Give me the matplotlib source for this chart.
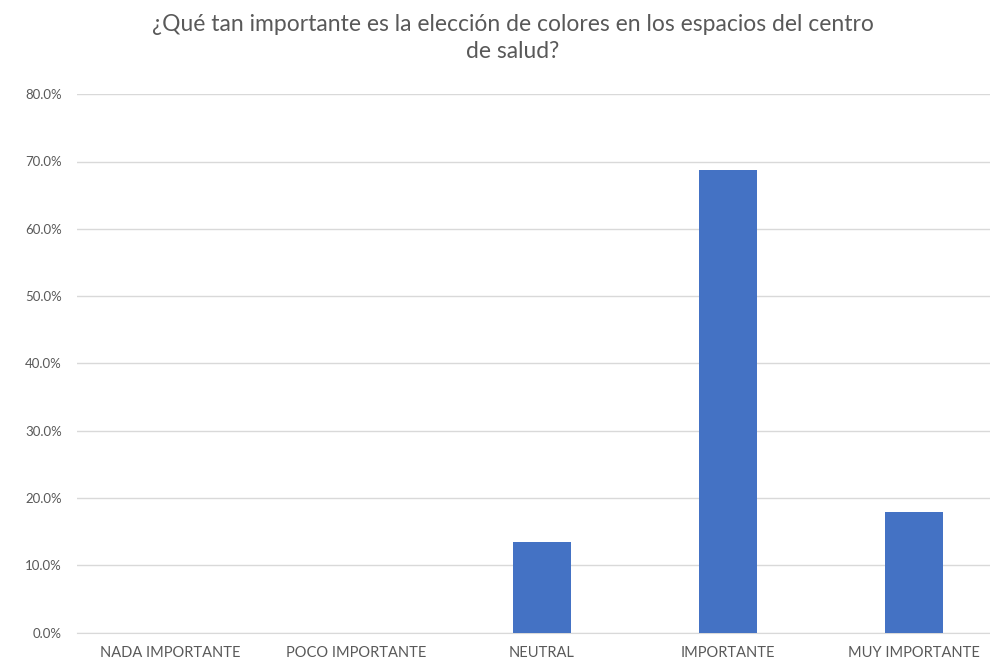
import matplotlib

matplotlib.use("Agg")

import matplotlib.pyplot as plt
from matplotlib.ticker import PercentFormatter

# survey answers, share of respondents (%)
categories = ["NADA IMPORTANTE", "POCO IMPORTANTE", "NEUTRAL", "IMPORTANTE", "MUY IMPORTANTE"]
shares = [0.0, 0.0, 13.4, 68.7, 17.9]
y_ticks = [0, 10, 20, 30, 40, 50, 60, 70, 80]

title = "¿Qué tan importante es la elección de colores en los espacios del centro\nde salud?"

plt.rcParams["font.family"] = ["Lato", "DejaVu Sans"]

W, H = 990, 663
fig = plt.figure(figsize=(W / 100, H / 100), dpi=100)
# plot area runs past the right edge, the reference is cropped there
ax = fig.add_axes([77 / W, (H - 632.6) / H, 930 / W, 538.4 / H])

x = range(len(categories))
ax.bar(x, shares, width=0.31, color="#4472C4", zorder=3)

ax.set_xlim(-0.5, len(categories) - 0.5)
ax.set_ylim(0, 80)
ax.set_yticks(y_ticks)
ax.yaxis.set_major_formatter(PercentFormatter(decimals=1))
ax.set_xticks(list(x))
ax.set_xticklabels(categories)

ax.grid(axis="y", color="#d9d9d9", lw=1.0, zorder=0)
for side in ["top", "right", "left"]:
    ax.spines[side].set_visible(False)
ax.spines["bottom"].set_color("#d9d9d9")
ax.tick_params(axis="both", length=0, colors="#595959")
ax.tick_params(axis="y", pad=11, labelsize=9.5)
ax.tick_params(axis="x", pad=10, labelsize=10.5)

fig.text(513 / W, 1 - 38 / H, title, ha="center", va="center", fontsize=16.5,
         color="#595959", linespacing=1.3)

fig.savefig("out.png", dpi=100)
plt.close(fig)
